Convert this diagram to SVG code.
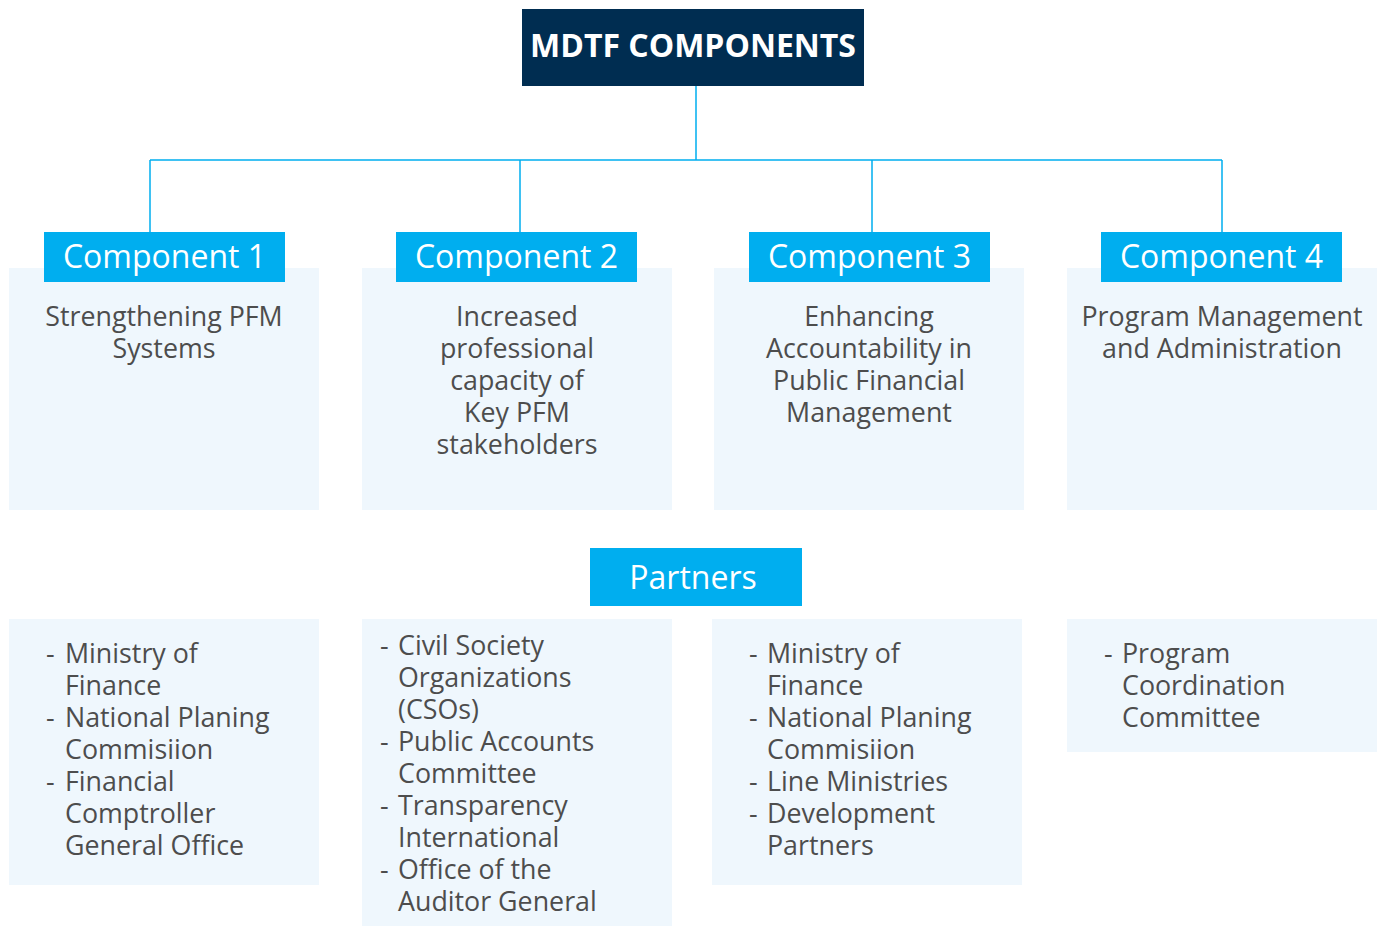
<svg xmlns="http://www.w3.org/2000/svg" width="1385" height="926" viewBox="0 0 1385 926">
<style>
.title{font-family:"Open Sans","Liberation Sans",sans-serif;font-weight:bold;font-size:32px;fill:#ffffff}
.hdr{fill:#00AEEF}
.hdrt{font-family:"Open Sans","Liberation Sans",sans-serif;font-size:32px;fill:#ffffff}
.box{fill:#EFF7FD}
.body{font-family:"Open Sans","Liberation Sans",sans-serif;font-size:26.8px;fill:#4D4D4D}
.conn{stroke:#00AEEF;stroke-width:1.5;fill:none}
</style>
<rect width="1385" height="926" fill="#ffffff"/>
<g id="connectors">
<path class="conn" d="M696 86V160M150 160H1222M150 160V232M520 160V232M872 160V232M1222 160V232"/>
</g>
<g id="title">
<rect x="522" y="9" width="342" height="77" fill="#002D51"/>
<text class="title" x="693" y="57" text-anchor="middle">MDTF COMPONENTS</text>
</g>
<g id="component1">
<rect class="box" x="9" y="268" width="310" height="242"/>
<rect class="hdr" x="44" y="232" width="241" height="50"/>
<text class="hdrt" x="164.5" y="268" text-anchor="middle">Component 1</text>
<text class="body" text-anchor="middle"><tspan x="164" y="326">Strengthening PFM</tspan><tspan x="164" y="358">Systems</tspan></text>
</g>
<g id="component2">
<rect class="box" x="362" y="268" width="310" height="242"/>
<rect class="hdr" x="396" y="232" width="241" height="50"/>
<text class="hdrt" x="516.5" y="268" text-anchor="middle">Component 2</text>
<text class="body" text-anchor="middle"><tspan x="517" y="326">Increased</tspan><tspan x="517" y="358">professional</tspan><tspan x="517" y="390">capacity of</tspan><tspan x="517" y="422">Key PFM</tspan><tspan x="517" y="454">stakeholders</tspan></text>
</g>
<g id="component3">
<rect class="box" x="714" y="268" width="310" height="242"/>
<rect class="hdr" x="749" y="232" width="241" height="50"/>
<text class="hdrt" x="869.5" y="268" text-anchor="middle">Component 3</text>
<text class="body" text-anchor="middle"><tspan x="869" y="326">Enhancing</tspan><tspan x="869" y="358">Accountability in</tspan><tspan x="869" y="390">Public Financial</tspan><tspan x="869" y="422">Management</tspan></text>
</g>
<g id="component4">
<rect class="box" x="1067" y="268" width="310" height="242"/>
<rect class="hdr" x="1101" y="232" width="241" height="50"/>
<text class="hdrt" x="1221.5" y="268" text-anchor="middle">Component 4</text>
<text class="body" text-anchor="middle"><tspan x="1222" y="326">Program Management</tspan><tspan x="1222" y="358">and Administration</tspan></text>
</g>
<g id="partners">
<rect class="hdr" x="590" y="548" width="212" height="58"/>
<text class="hdrt" x="693" y="589" text-anchor="middle">Partners</text>
</g>
<g id="partners1">
<rect class="box" x="9" y="619" width="310" height="266"/>
<text class="body"><tspan x="46" y="663">-</tspan><tspan x="65" y="663">Ministry of</tspan><tspan x="65" y="695">Finance</tspan><tspan x="46" y="727">-</tspan><tspan x="65" y="727">National Planing</tspan><tspan x="65" y="759">Commisiion</tspan><tspan x="46" y="791">-</tspan><tspan x="65" y="791">Financial</tspan><tspan x="65" y="823">Comptroller</tspan><tspan x="65" y="855">General Office</tspan></text>
</g>
<g id="partners2">
<rect class="box" x="362" y="619" width="310" height="307"/>
<text class="body"><tspan x="380" y="655">-</tspan><tspan x="398" y="655">Civil Society</tspan><tspan x="398" y="687">Organizations</tspan><tspan x="398" y="719">(CSOs)</tspan><tspan x="380" y="751">-</tspan><tspan x="398" y="751">Public Accounts</tspan><tspan x="398" y="783">Committee</tspan><tspan x="380" y="815">-</tspan><tspan x="398" y="815">Transparency</tspan><tspan x="398" y="847">International</tspan><tspan x="380" y="879">-</tspan><tspan x="398" y="879">Office of the</tspan><tspan x="398" y="911">Auditor General</tspan></text>
</g>
<g id="partners3">
<rect class="box" x="712" y="619" width="310" height="266"/>
<text class="body"><tspan x="749" y="663">-</tspan><tspan x="767" y="663">Ministry of</tspan><tspan x="767" y="695">Finance</tspan><tspan x="749" y="727">-</tspan><tspan x="767" y="727">National Planing</tspan><tspan x="767" y="759">Commisiion</tspan><tspan x="749" y="791">-</tspan><tspan x="767" y="791">Line Ministries</tspan><tspan x="749" y="823">-</tspan><tspan x="767" y="823">Development</tspan><tspan x="767" y="855">Partners</tspan></text>
</g>
<g id="partners4">
<rect class="box" x="1067" y="619" width="310" height="133"/>
<text class="body"><tspan x="1104" y="663">-</tspan><tspan x="1122" y="663">Program</tspan><tspan x="1122" y="695">Coordination</tspan><tspan x="1122" y="727">Committee</tspan></text>
</g>
</svg>
